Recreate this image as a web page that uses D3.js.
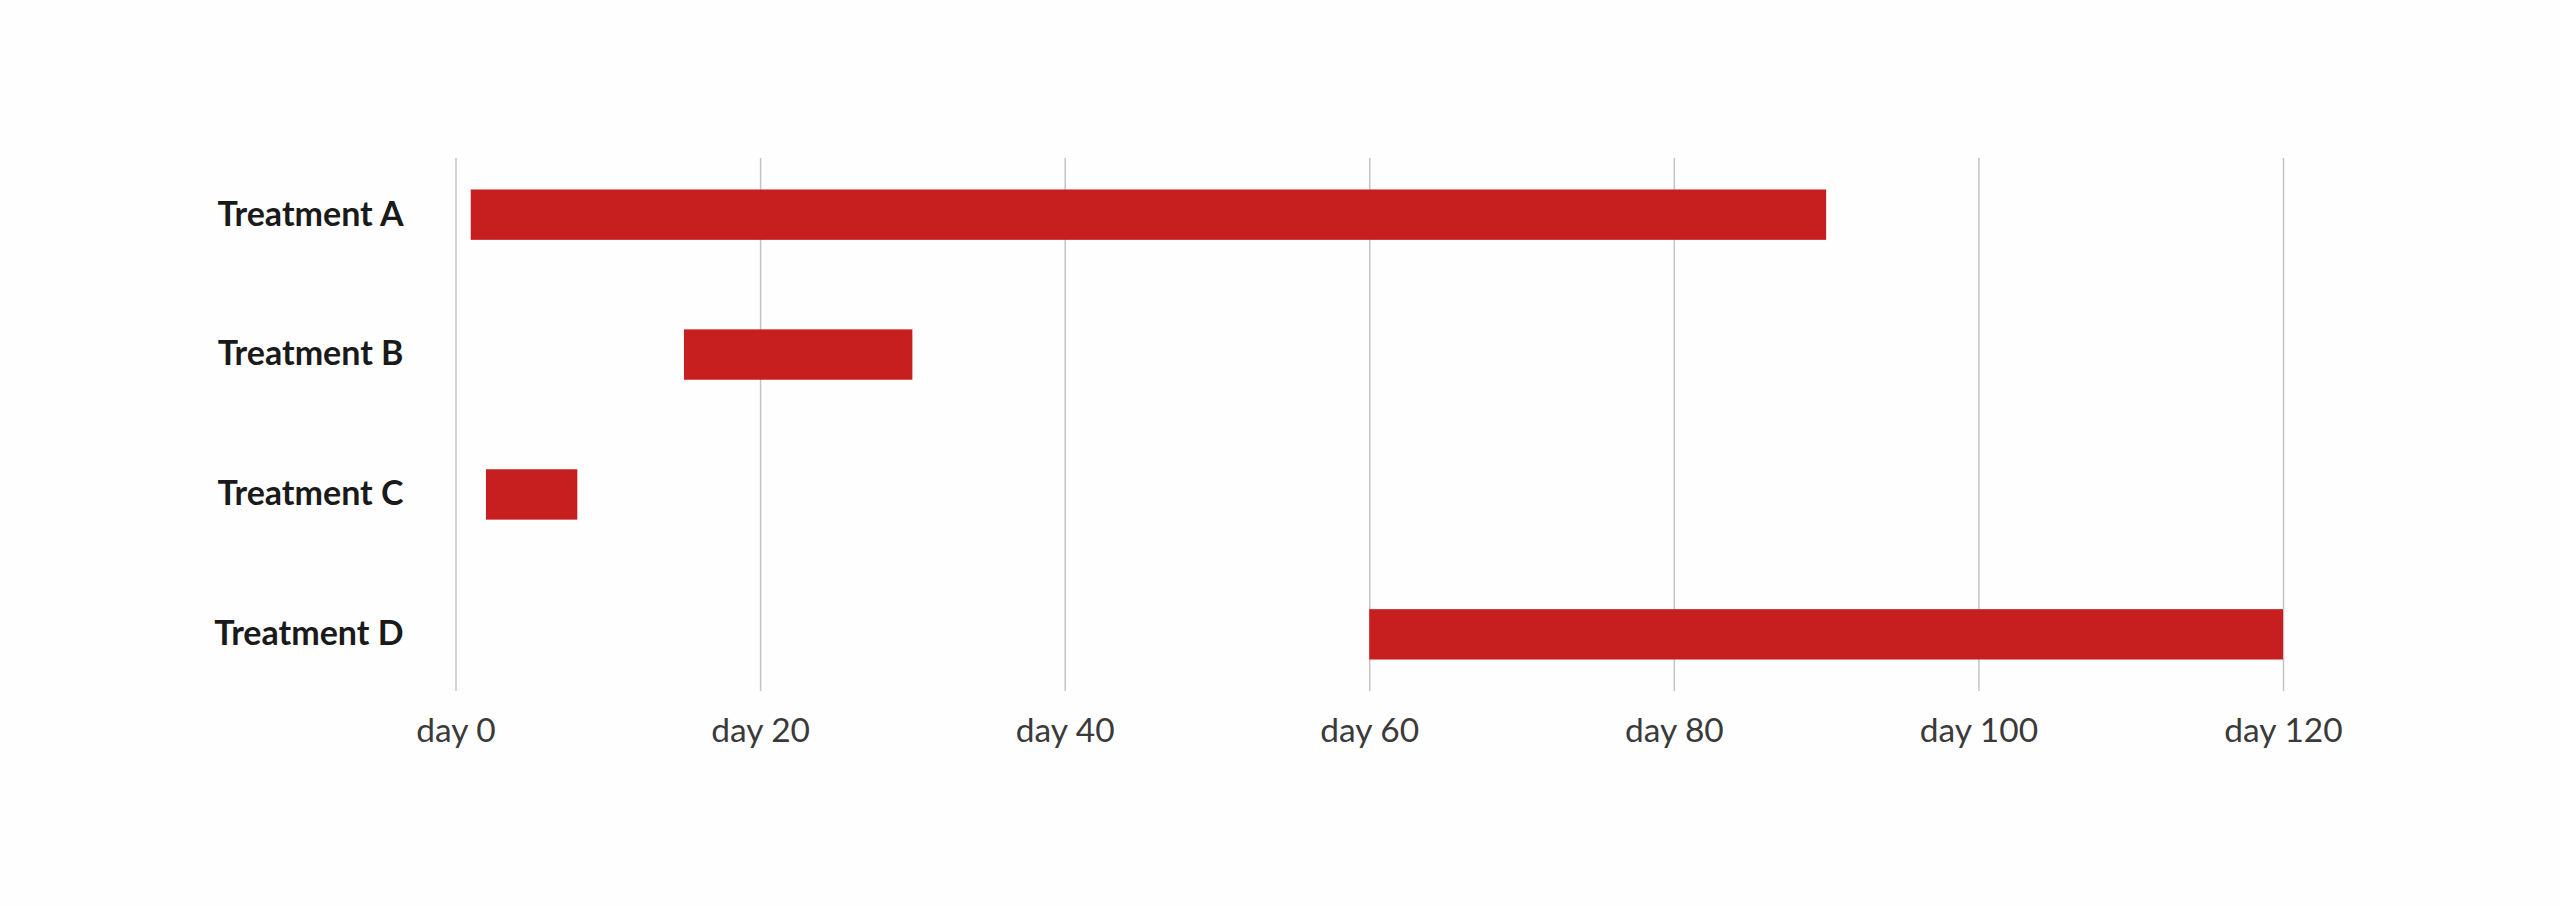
<!DOCTYPE html>
<html>
<head>
<meta charset="utf-8">
<script src="https://cdn.jsdelivr.net/npm/d3@7"></script>
<style>
  body { margin: 0; background: #fefefe; }
  svg { display: block; }
  .grid line { stroke: #c4c4c4; stroke-width: 1.5; }
  .grid path { display: none; }
  .xaxis path, .xaxis line { display: none; }
  .xaxis text { font-family: Lato, sans-serif; font-size: 33.5px; fill: #3a3a3a; }
  .yaxis path, .yaxis line { display: none; }
  .yaxis text { font-family: Lato, sans-serif; font-size: 34px; font-weight: bold; fill: #1a1a1a; }
</style>
</head>
<body>
<svg id="chart" width="2560" height="906"></svg>
<script>
// treatment periods, in days
var treatments = ["Treatment A", "Treatment B", "Treatment C", "Treatment D"];
var startDay = [1, 15, 2, 60];
var endDay = [90, 30, 8, 120];
var dayTicks = [0, 20, 40, 60, 80, 100, 120];

var svg = d3.select("#chart");

// plot area edges (window.top is taken, so prefix them)
var plotLeft = 455.5, plotRight = 2283,
    plotTop = 158, plotBottom = 691;

var x = d3.scaleLinear().domain([0, 120]).range([plotLeft, plotRight]);
var y = d3.scaleBand().domain(treatments).range([plotTop, plotBottom])
    .paddingInner(0.64).paddingOuter(0.225);

// vertical gridlines
svg.append("g")
    .attr("class", "grid")
    .attr("transform", "translate(0," + plotBottom + ")")
    .call(d3.axisBottom(x).tickValues(dayTicks).tickSize(-(plotBottom - plotTop)).tickFormat(""));

// bars
svg.append("g").selectAll("rect")
    .data(treatments)
    .join("rect")
    .attr("x", function(d, i) { return x(startDay[i]); })
    .attr("width", function(d, i) { return x(endDay[i]) - x(startDay[i]); })
    .attr("y", function(d) { return y(d); })
    .attr("height", y.bandwidth())
    .attr("fill", "#c71e1f");

// x axis labels
svg.append("g")
    .attr("class", "xaxis")
    .attr("transform", "translate(0," + plotBottom + ")")
    .call(d3.axisBottom(x).tickValues(dayTicks).tickSize(0).tickPadding(27)
      .tickFormat(function(d) { return "day " + d; }));

// category labels
svg.append("g")
    .attr("class", "yaxis")
    .attr("transform", "translate(" + (plotLeft - 52) + ",0)")
    .call(d3.axisLeft(y).tickSize(0).tickPadding(0));
</script>
</body>
</html>
